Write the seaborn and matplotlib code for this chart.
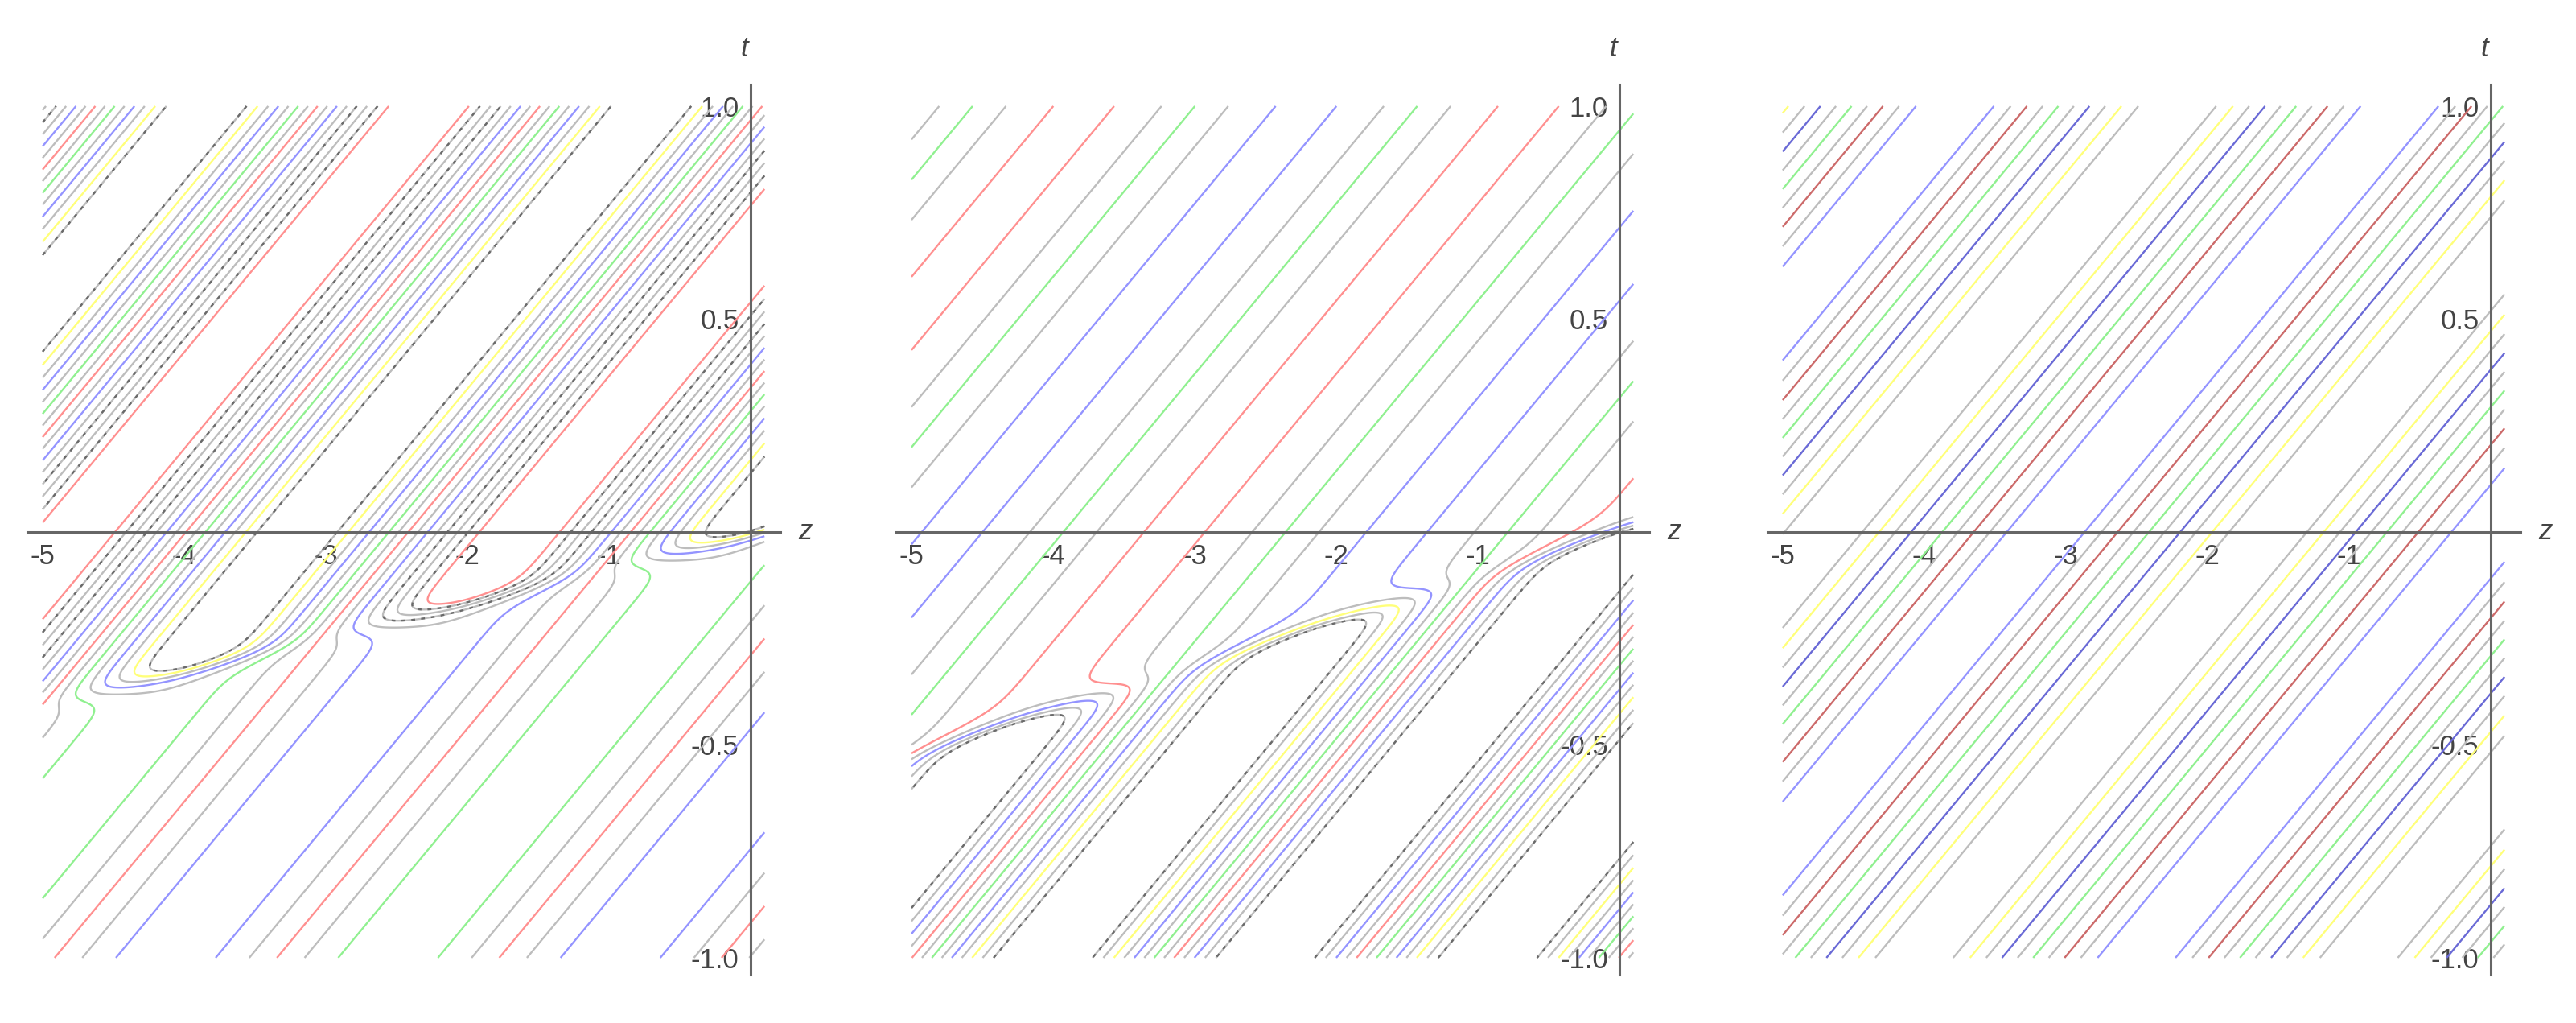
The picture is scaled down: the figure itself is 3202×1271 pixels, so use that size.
import numpy as np
import matplotlib
matplotlib.use('Agg')
import matplotlib.pyplot as plt
from matplotlib.ticker import FixedLocator, FixedFormatter
import seaborn as sns

sns.set_style('white')
plt.rcParams['font.family'] = ['Liberation Sans', 'DejaVu Sans']

# plane wave f = A * w(k*(z - c*t) + phase); amplitude and wave sharpness jump
# across a fold line t = slope*z + t0
wave_k = 2.0
wave_c = 2.5
fold_width = 0.012
tri_r = 0.98

# one entry per panel
phases = [3.26, 0.0, 0.0]
amp_above = [3.8, 0.88, 2.45]
amp_below = [1.05, 3.7, 2.45]
sharp_above = [0.8, 0.0, 0.9]
sharp_below = [0.0, 0.8, 0.9]
fold_slope = [0.08, 0.105, 0.0]
fold_t0 = [-0.005, 0.0, 0.0]

# contour levels and their styles, per panel
levels_1 = [-2.8, -2.4, -2.0, -1.6, -1.2, -0.8, -0.4, 0.0, 0.4, 0.8, 1.2, 1.6, 2.0, 2.4, 2.8]
styles_1 = ['dash', 'yellow', 'gray', 'blue', 'gray', 'green', 'gray', 'red',
            'gray', 'blue', 'gray', 'dash', 'gray', 'dash', 'red']
levels_2 = [-2.4, -2.0, -1.6, -1.2, -0.8, -0.4, 0.0, 0.4, 0.8, 1.2, 1.6, 2.0, 2.4]
styles_2 = ['dash', 'gray', 'yellow', 'gray', 'blue', 'gray', 'green',
            'gray', 'red', 'gray', 'blue', 'gray', 'dash']
levels_3 = [-1.8, -1.4, -1.0, -0.6, -0.2, 0.2, 0.6, 1.0, 1.4, 1.8]
styles_3 = ['gray', 'yellow', 'gray', 'darkblue', 'gray', 'green', 'gray', 'darkred', 'gray', 'blue']

colors = {
    'gray': '#bdbdbd',
    'red': '#ff9090',
    'green': '#90f090',
    'blue': '#9494ff',
    'yellow': '#ffff7a',
    'darkred': '#cc6a6a',
    'darkblue': '#6a6ad6',
    'dash': '#bdbdbd',
}

z_ticks = [-5, -4, -3, -2, -1]
z_labels = ['-5', '-4', '-3', '-2', '-1']
t_ticks = [-1.0, -0.5, 0.5, 1.0]
t_labels = ['-1.0', '-0.5', '0.5', '1.0']

axis_col = '#666666'
text_col = '#444444'

z = np.linspace(-5, 0.1, 1400)
t = np.linspace(-1, 1, 1100)
Zg, Tg = np.meshgrid(z, t)


def field(i):
    s = Tg - (fold_slope[i] * Zg + fold_t0[i])
    g = 1 / (1 + np.exp(-s / fold_width))
    amp = amp_below[i] + (amp_above[i] - amp_below[i]) * g
    sharp = sharp_below[i] + (sharp_above[i] - sharp_below[i]) * g
    theta = wave_k * (Zg - wave_c * Tg) + phases[i]
    tri = np.arcsin(tri_r * np.cos(theta)) / np.arcsin(tri_r)
    return amp * ((1 - sharp) * np.cos(theta) + sharp * tri)


fig = plt.figure(figsize=(32.02, 12.71), dpi=100)
lefts = [0.0105, 0.3478, 0.6860]
all_levels = [levels_1, levels_2, levels_3]
all_styles = [styles_1, styles_2, styles_3]

for i in range(3):
    ax = fig.add_axes([lefts[i], 0.0471, 0.2923, 0.8699])
    F = field(i)
    lv = np.array(all_levels[i])
    st = np.array(all_styles[i])
    for name in np.unique(st):
        sel = sorted(lv[st == name])
        ax.contour(Zg, Tg, F, levels=sel, colors=colors[name], linewidths=1.7,
                   linestyles='solid')
        if name == 'dash':
            ax.contour(Zg, Tg, F, levels=sel, colors='#6a6a6a', linewidths=1.7,
                       linestyles=[(0, (2.0, 3.2))])

    ax.set_xlim(-5.11, 0.21)
    ax.set_ylim(-1.04, 1.05)
    for side in ['top', 'right']:
        ax.spines[side].set_visible(False)
    ax.spines['left'].set_position(('data', 0))
    ax.spines['bottom'].set_position(('data', 0))
    for side in ['left', 'bottom']:
        ax.spines[side].set_color(axis_col)
        ax.spines[side].set_linewidth(2.2)

    ax.xaxis.set_major_locator(FixedLocator(z_ticks))
    ax.xaxis.set_major_formatter(FixedFormatter(z_labels))
    ax.xaxis.set_minor_locator(FixedLocator([v for v in np.arange(-4.8, 0, 0.2) if abs(v - round(v)) > 1e-6]))
    ax.yaxis.set_major_locator(FixedLocator(t_ticks))
    ax.yaxis.set_major_formatter(FixedFormatter(t_labels))
    ax.yaxis.set_minor_locator(FixedLocator([v for v in np.arange(-0.9, 1.0, 0.1)
                                             if abs(v) > 1e-6 and abs(abs(v) - 0.5) > 1e-6]))
    ax.tick_params(which='both', direction='in', color=axis_col, width=1.6,
                   labelcolor=text_col, labelsize=25)
    ax.tick_params(which='major', length=11)
    ax.tick_params(which='minor', length=7)
    ax.tick_params(axis='x', which='major', pad=10)
    ax.tick_params(axis='y', which='major', pad=10)

    ax.text(-0.04, 1.135, 't', style='italic', fontsize=25, color=text_col,
            ha='center', va='center', clip_on=False)
    ax.text(0.39, 0.0, 'z', style='italic', fontsize=25, color=text_col,
            ha='center', va='center', clip_on=False)

fig.savefig('out.png', dpi=100)
